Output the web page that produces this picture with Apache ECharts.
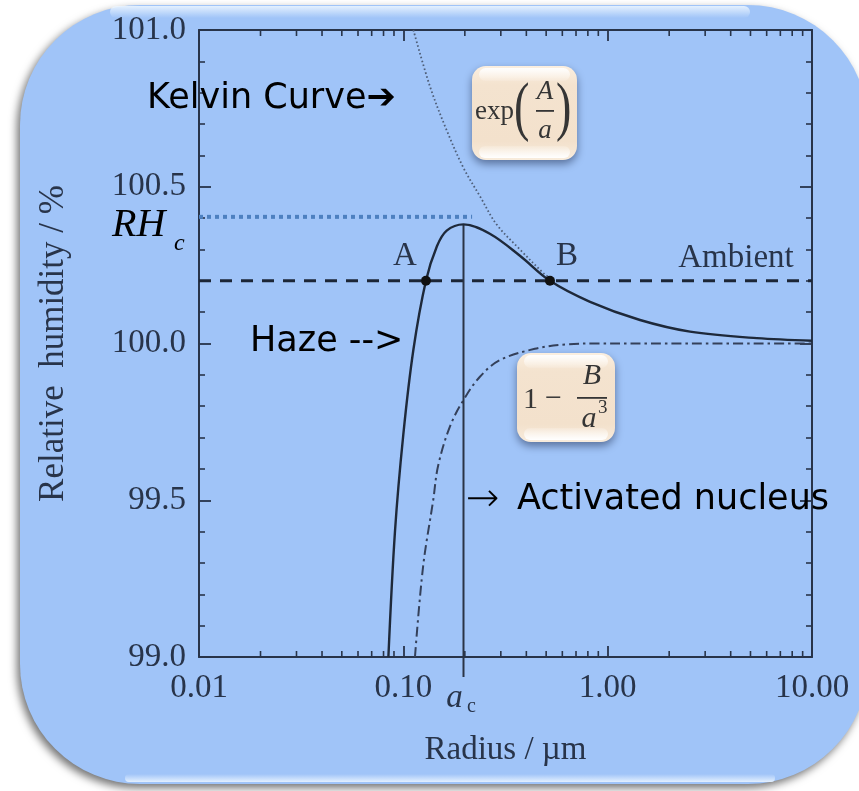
<!DOCTYPE html>
<html>
<head>
<meta charset="utf-8">
<script src="https://cdn.jsdelivr.net/npm/echarts@6/dist/echarts.min.js"></script>
<style>
  html, body { margin: 0; padding: 0; background: #ffffff; }
  #chart { width: 859px; height: 791px; }
</style>
</head>
<body>
<div id="chart"></div>
<script>
// Köhler curve: equilibrium relative humidity over a solution droplet vs. radius

// tick labels
const xTickLabels = ['0.01', '0.10', '1.00', '10.00'];
const yTickLabels = { '99': '99.0', '99.5': '99.5', '100': '100.0', '100.5': '100.5', '101': '101.0' };
const xMinorTicks = [0.02, 0.03, 0.04, 0.05, 0.06, 0.07, 0.08, 0.09,
                     0.2, 0.3, 0.4, 0.5, 0.6, 0.7, 0.8, 0.9,
                     2, 3, 4, 5, 6, 7, 8, 9];

// full Köhler curve (solid)
const radiusKohler = [0.0845, 0.091, 0.100, 0.112, 0.129, 0.146, 0.163, 0.197, 0.265, 0.372, 0.522, 0.82, 1.44, 2.53, 5.37, 10.0];
const rhKohler     = [99.00, 99.40, 99.71, 99.98, 100.20, 100.31, 100.36, 100.38, 100.35, 100.28, 100.20, 100.133, 100.075, 100.038, 100.017, 100.009];

// curvature (Kelvin) term, dotted
const radiusKelvin = [0.112, 0.135, 0.163, 0.197, 0.237, 0.286, 0.372, 0.484, 0.53];
const rhKelvin     = [101.0, 100.82, 100.68, 100.56, 100.47, 100.38, 100.30, 100.225, 100.205];

// solute (Raoult) term, dash-dot
const radiusSolute = [0.114, 0.125, 0.140, 0.148, 0.169, 0.197, 0.237, 0.297, 0.44, 0.62, 0.9, 2.0, 10.0];
const rhSolute     = [99.00, 99.29, 99.50, 99.61, 99.735, 99.82, 99.894, 99.947, 99.983, 99.997, 100.0, 100.0, 100.0];

const ambientRH = 100.2;
const pointNames = ['A', 'B'];
const pointRadius = [0.129, 0.522];
const criticalRadius = 0.197;
const criticalRH = 100.38;
const rhcMarkerRH = 100.404;
const rhcMarkerEnd = 0.217;

const zip = (xs, ys) => xs.map((x, i) => [x, ys[i]]);

const axisColor = '#28344a';
const textColor = '#28344a';
const serif = '"Liberation Serif", "DejaVu Serif", serif';
const handFont = '"DejaVu Sans", sans-serif';

const chart = echarts.init(document.getElementById('chart'), null, { renderer: 'canvas' });

function formulaBox(x, y, w, h) {
  return [
    {
      type: 'rect', z: 20,
      shape: { x: x, y: y, width: w, height: h, r: 14 },
      style: {
        fill: {
          type: 'linear', x: 0, y: 0, x2: 0, y2: 1,
          colorStops: [
            { offset: 0, color: '#fbefe0' },
            { offset: 0.2, color: '#f4e3cf' },
            { offset: 0.8, color: '#f3e1cc' },
            { offset: 1, color: '#f8ecdd' }
          ]
        },
        shadowBlur: 9, shadowColor: 'rgba(30,45,80,0.55)', shadowOffsetX: 0, shadowOffsetY: 4
      }
    },
    {
      type: 'rect', z: 21,
      shape: { x: x + 7, y: y + 2, width: w - 14, height: 13, r: 7 },
      style: {
        fill: {
          type: 'linear', x: 0, y: 0, x2: 0, y2: 1,
          colorStops: [{ offset: 0, color: 'rgba(255,255,255,0.95)' }, { offset: 1, color: 'rgba(255,255,255,0.1)' }]
        }
      }
    },
    {
      type: 'rect', z: 21,
      shape: { x: x + 7, y: y + h - 14, width: w - 14, height: 12, r: 6 },
      style: {
        fill: {
          type: 'linear', x: 0, y: 0, x2: 0, y2: 1,
          colorStops: [{ offset: 0, color: 'rgba(255,255,255,0.15)' }, { offset: 1, color: 'rgba(255,255,255,0.98)' }]
        }
      }
    }
  ];
}

function txt(text, x, y, font, opts, extra) {
  return Object.assign({
    type: 'text', z: 25, x: x, y: y,
    style: Object.assign({ text: text, font: font, fill: '#000', align: 'left', verticalAlign: 'middle' }, opts || {})
  }, extra || {});
}

const formulaColor = '#353535';

const graphics = [
  // rounded card behind the plot
  {
    type: 'rect', z: -10,
    shape: { x: 20, y: 5, width: 848, height: 779, r: 120 },
    style: {
      fill: '#a0c4f8',
      shadowBlur: 8, shadowColor: 'rgba(0,0,0,0.55)', shadowOffsetX: -3, shadowOffsetY: 4
    }
  },
  {
    type: 'rect', z: -9,
    shape: { x: 110, y: 6, width: 640, height: 12, r: 6 },
    style: {
      fill: {
        type: 'linear', x: 0, y: 0, x2: 0, y2: 1,
        colorStops: [{ offset: 0, color: 'rgba(235,245,255,0.9)' }, { offset: 1, color: 'rgba(235,245,255,0)' }]
      }
    }
  },
  {
    type: 'rect', z: -9,
    shape: { x: 125, y: 774, width: 650, height: 8, r: 4 },
    style: {
      fill: {
        type: 'linear', x: 0, y: 0, x2: 0, y2: 1,
        colorStops: [{ offset: 0, color: 'rgba(235,245,255,0)' }, { offset: 1, color: 'rgba(235,245,255,0.9)' }]
      }
    }
  },

  // exp(A/a) box
  ...formulaBox(472, 66, 105, 94),
  txt('exp', 475, 112, '27px ' + serif, { fill: formulaColor }),
  txt('(', 514, 111, '66px ' + serif, { fill: formulaColor }, { scaleX: 0.7 }),
  txt('A', 545, 92, 'italic 27px ' + serif, { fill: formulaColor, align: 'center' }),
  { type: 'rect', z: 25, shape: { x: 536, y: 110, width: 18, height: 1.8 }, style: { fill: formulaColor } },
  txt('a', 545, 131, 'italic 27px ' + serif, { fill: formulaColor, align: 'center' }),
  txt(')', 556, 111, '66px ' + serif, { fill: formulaColor }, { scaleX: 0.7 }),

  // 1 - B/a^3 box
  ...formulaBox(517, 353, 98, 89),
  txt('1', 523, 400, '30px ' + serif, { fill: formulaColor }),
  txt('\u2212', 545, 399, '30px ' + serif, { fill: formulaColor }),
  txt('B', 592, 376, 'italic 30px ' + serif, { fill: formulaColor, align: 'center' }),
  { type: 'rect', z: 25, shape: { x: 577, y: 397, width: 30, height: 1.8 }, style: { fill: formulaColor } },
  txt('a', 589, 419, 'italic 30px ' + serif, { fill: formulaColor, align: 'center' }),
  txt('3', 598, 408, '19px ' + serif, { fill: formulaColor }),

  // hand-written annotations
  txt('Kelvin Curve\u2794', 147, 99, '35px ' + handFont),
  txt('Haze -->', 250, 342, '35px ' + handFont),
  txt('\u2192', 466, 501, '200 40px ' + handFont),
  txt('Activated nucleus', 517, 500, '35px ' + handFont),

  // RH_c marker label
  txt('RH', 112, 225, 'italic 40px ' + serif),
  txt('c', 174, 244, 'italic 24px ' + serif)
];

const option = {
  backgroundColor: '#ffffff',
  animation: false,
  grid: { left: 199, top: 30, width: 613, height: 627, containLabel: false },
  xAxis: [
    {
      type: 'log', logBase: 10, min: 0.01, max: 10,
      name: 'Radius / \u00b5m', nameLocation: 'middle', nameGap: 77,
      nameTextStyle: { fontFamily: serif, fontSize: 33, color: textColor },
      axisLine: { show: true, onZero: false, lineStyle: { color: axisColor, width: 2 } },
      axisTick: { show: true, inside: true, length: 11, lineStyle: { color: axisColor, width: 1.8 } },
      axisLabel: {
        show: true, margin: 15, fontFamily: serif, fontSize: 33, color: textColor,
        formatter: v => xTickLabels[Math.round(Math.log10(v)) + 2]
      },
      splitLine: { show: false }
    },
    {
      type: 'log', logBase: 10, min: 0.01, max: 10, position: 'top',
      axisLine: { show: true, onZero: false, lineStyle: { color: axisColor, width: 2 } },
      axisTick: { show: true, inside: true, length: 11, lineStyle: { color: axisColor, width: 1.8 } },
      axisLabel: { show: false },
      splitLine: { show: false }
    }
  ],
  yAxis: [
    {
      type: 'value', min: 99, max: 101, interval: 0.5,
      name: 'Relative  humidity / %', nameLocation: 'middle', nameGap: 128, nameRotate: 90,
      nameTextStyle: { fontFamily: serif, fontSize: 35, color: textColor },
      axisLine: { show: true, onZero: false, lineStyle: { color: axisColor, width: 2 } },
      axisTick: { show: true, inside: true, length: 12, lineStyle: { color: axisColor, width: 1.8 } },
      minorTick: { show: true, splitNumber: 5, length: 6, lineStyle: { color: axisColor, width: 1.6 } },
      axisLabel: {
        show: true, margin: 13, fontFamily: serif, fontSize: 33, color: textColor,
        formatter: v => yTickLabels[String(+v.toFixed(1))]
      },
      splitLine: { show: false }, minorSplitLine: { show: false }
    },
    {
      type: 'value', min: 99, max: 101, interval: 0.5, position: 'right',
      axisLine: { show: true, onZero: false, lineStyle: { color: axisColor, width: 2 } },
      axisTick: { show: true, inside: true, length: 12, lineStyle: { color: axisColor, width: 1.8 } },
      minorTick: { show: true, splitNumber: 5, length: 6, lineStyle: { color: axisColor, width: 1.6 } },
      axisLabel: { show: false },
      splitLine: { show: false }, minorSplitLine: { show: false }
    }
  ],
  graphic: { elements: graphics },
  series: [
    // minor log ticks on bottom and top axes
    {
      type: 'custom', coordinateSystem: 'cartesian2d', clip: false, silent: true, z: 3,
      data: xMinorTicks.map(v => [v, 99]),
      renderItem: (params, api) => {
        const v = api.value(0);
        const b = api.coord([v, 99]);
        const t = api.coord([v, 101]);
        const style = { stroke: axisColor, lineWidth: 1.6 };
        return {
          type: 'group', children: [
            { type: 'line', shape: { x1: b[0], y1: b[1], x2: b[0], y2: b[1] - 6 }, style: style },
            { type: 'line', shape: { x1: t[0], y1: t[1], x2: t[0], y2: t[1] + 6 }, style: style }
          ]
        };
      }
    },
    // RH_c marker (blue dotted)
    {
      type: 'line', symbol: 'none', silent: true, z: 4,
      data: [[0.01, rhcMarkerRH], [rhcMarkerEnd, rhcMarkerRH]],
      lineStyle: { color: '#4d80c0', width: 4, type: [4, 4] }
    },
    // Kelvin term
    {
      type: 'line', symbol: 'none', smooth: 0.35, silent: true, z: 5,
      data: zip(radiusKelvin, rhKelvin),
      lineStyle: { color: '#4e5e78', width: 1.8, type: [1.6, 2.4] }
    },
    // solute term
    {
      type: 'line', symbol: 'none', smooth: 0.35, silent: true, z: 5,
      data: zip(radiusSolute, rhSolute),
      lineStyle: { color: '#34405a', width: 2, type: [10, 4, 2.5, 4] }
    },
    // ambient humidity
    {
      type: 'line', symbol: 'none', silent: true, z: 5,
      data: [[0.01, ambientRH], [10, ambientRH]],
      lineStyle: { color: '#1c2637', width: 3, type: [12, 9] }
    },
    // ambient label anchored at the right end of the ambient line
    {
      type: 'scatter', symbolSize: 0, silent: true, z: 6,
      itemStyle: { opacity: 1 },
      data: [{ name: 'Ambient', value: [10, ambientRH] }],
      label: { show: true, formatter: '{b}', position: 'top', distance: 6, offset: [-76, 0],
        fontFamily: serif, fontSize: 33, color: textColor }
    },
    // critical radius line and its axis label
    {
      type: 'custom', coordinateSystem: 'cartesian2d', clip: false, silent: true, z: 6,
      data: [[criticalRadius, criticalRH]],
      renderItem: (params, api) => {
        const top = api.coord([api.value(0), api.value(1)]);
        const base = api.coord([api.value(0), 99]);
        return {
          type: 'group', children: [
            { type: 'line', shape: { x1: top[0], y1: top[1], x2: base[0], y2: base[1] + 20 },
              style: { stroke: '#2a3446', lineWidth: 2 } },
            { type: 'text', x: base[0] - 9, y: base[1] + 41,
              style: { text: 'a', font: 'italic 33px ' + serif, fill: textColor, align: 'center', verticalAlign: 'middle' } },
            { type: 'text', x: base[0] + 8, y: base[1] + 50,
              style: { text: 'c', font: '20px ' + serif, fill: textColor, align: 'center', verticalAlign: 'middle' } }
          ]
        };
      }
    },
    // Köhler curve
    {
      type: 'line', symbol: 'none', smooth: 0.35, silent: true, z: 7,
      data: zip(radiusKohler, rhKohler),
      lineStyle: { color: '#1e293a', width: 2.4 }
    },
    // equilibrium points A and B
    {
      type: 'scatter', symbol: 'circle', symbolSize: 10, z: 8, silent: true,
      data: pointNames.map((n, i) => ({
        name: n, value: [pointRadius[i], ambientRH],
        label: { offset: [i === 0 ? -21 : 17, 3] }
      })),
      itemStyle: { color: '#111111', opacity: 1 },
      label: { show: true, formatter: '{b}', position: 'top', distance: 6, fontFamily: serif, fontSize: 33, color: textColor }
    }
  ]
};

chart.setOption(option);
</script>
</body>
</html>
